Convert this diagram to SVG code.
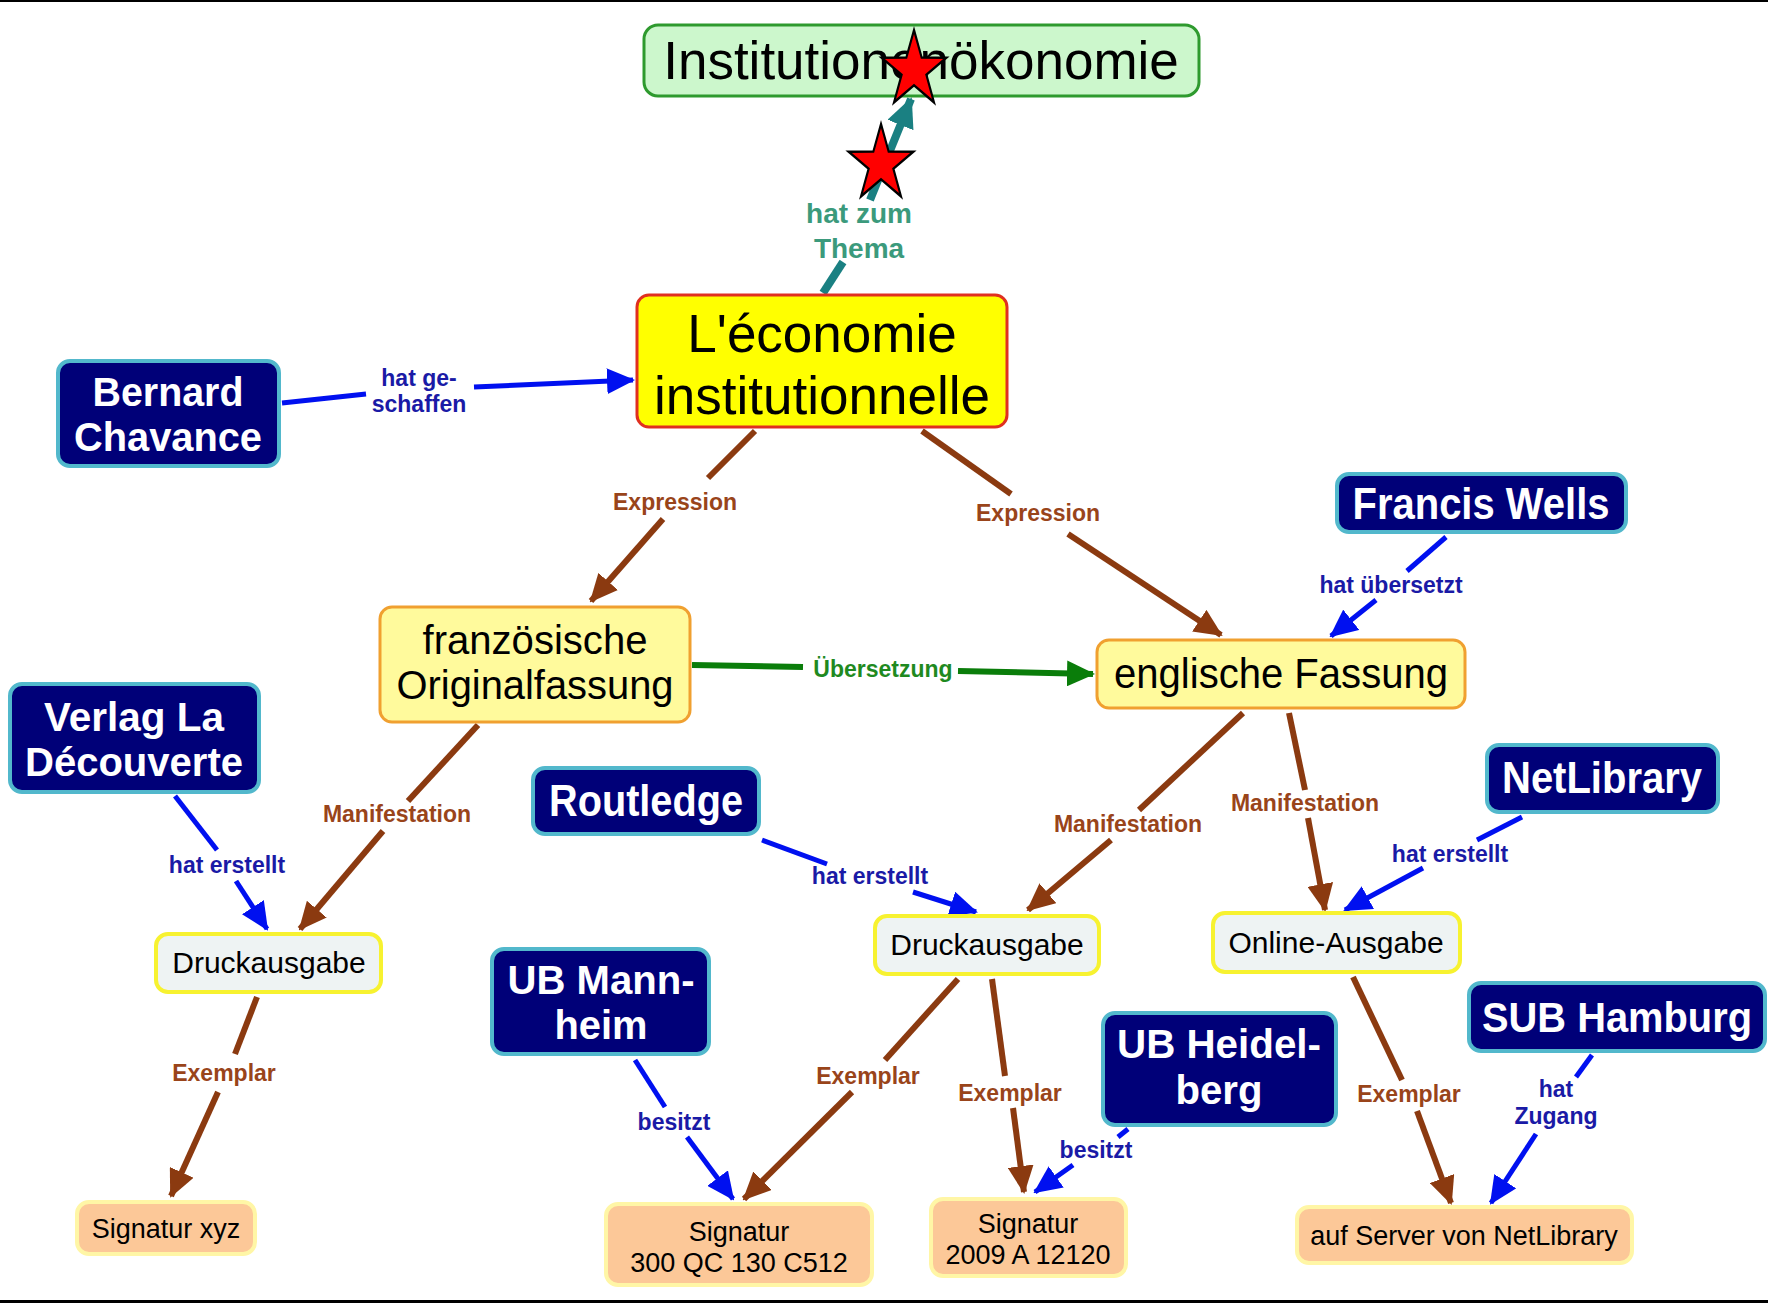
<svg xmlns="http://www.w3.org/2000/svg" xmlns:xlink="http://www.w3.org/1999/xlink" width="1768" height="1303" viewBox="0 0 1768 1303">
<style>
.t{font-family:"Liberation Sans",Arial,sans-serif;text-anchor:middle}
.navy rect{fill:#000078;stroke:#52b8cc;stroke-width:4}
.navy text{fill:#fff;font-weight:bold;font-size:45px}
.navy text.two{font-size:40px}
.yel rect{fill:#fffa9c;stroke:#f0a030;stroke-width:3}
.yel text{fill:#000;font-size:40px}
.ed rect{fill:#eef3f3;stroke:#f7f230;stroke-width:4}
.ed text{fill:#000;font-size:30px}
.sig rect{fill:#fcc898;stroke:#fff6a6;stroke-width:4}
.sig text{fill:#000;font-size:27px}
.lb{font-weight:bold;font-size:23px}
.br{stroke:#8b3a10;stroke-width:6;fill:none}
.bl{stroke:#0010f0;stroke-width:5;fill:none}
.gr{stroke:#0a7d0a;stroke-width:6;fill:none}
.te{stroke:#1a8082;stroke-width:8;fill:none}
.lbr{fill:#99441a}
.lbl{fill:#1a1aa6}
.lgr{fill:#1f8a1f}
.lte{fill:#3b9a7c}
</style>
<defs>
<marker id="mbr" markerUnits="userSpaceOnUse" markerWidth="28" markerHeight="26" refX="26" refY="13" orient="auto"><path d="M0,0 L28,13 L0,26 z" fill="#8b3a10"/></marker>
<marker id="mbl" markerUnits="userSpaceOnUse" markerWidth="28" markerHeight="26" refX="26" refY="13" orient="auto"><path d="M0,0 L28,13 L0,26 z" fill="#0010f0"/></marker>
<marker id="mgr" markerUnits="userSpaceOnUse" markerWidth="28" markerHeight="26" refX="26" refY="13" orient="auto"><path d="M0,0 L28,13 L0,26 z" fill="#0a7d0a"/></marker>
<marker id="mte" markerUnits="userSpaceOnUse" markerWidth="30" markerHeight="28" refX="28" refY="14" orient="auto"><path d="M0,0 L30,14 L0,28 z" fill="#1a8082"/></marker>
<polygon id="star" points="0,-40 8.99,-12.38 38.04,-12.36 14.55,4.73 23.51,32.36 0,15.3 -23.51,32.36 -14.55,4.73 -38.04,-12.36 -8.99,-12.38" fill="#ff0000" stroke="#000" stroke-width="2.5" stroke-linejoin="miter"/>
</defs>
<rect x="0" y="0" width="1768" height="1303" fill="#fff"/>
<line x1="0" y1="1" x2="1768" y2="1" stroke="#000" stroke-width="2"/>
<line x1="0" y1="1301.5" x2="1768" y2="1301.5" stroke="#000" stroke-width="3"/>

<g id="connectors">
  <!-- hat zum Thema -->
  <line class="te" x1="823" y1="293" x2="843" y2="262"/>
  <line class="te" x1="870" y1="200" x2="911" y2="99" marker-end="url(#mte)"/>
  <text class="t lb lte" x="859" y="223" style="font-size:28px">hat zum</text>
  <text class="t lb lte" x="859" y="258" style="font-size:28px">Thema</text>
  <!-- hat geschaffen -->
  <line class="bl" x1="282" y1="403" x2="366" y2="394"/>
  <line class="bl" x1="474" y1="387" x2="633" y2="380" marker-end="url(#mbl)"/>
  <text class="t lb lbl" x="419" y="386">hat ge-</text>
  <text class="t lb lbl" x="419" y="412">schaffen</text>
  <!-- Expression left -->
  <line class="br" x1="755" y1="431" x2="708" y2="478"/>
  <line class="br" x1="663" y1="519" x2="591" y2="601" marker-end="url(#mbr)"/>
  <text class="t lb lbr" x="675" y="510">Expression</text>
  <!-- Expression right -->
  <line class="br" x1="922" y1="431" x2="1011" y2="494"/>
  <line class="br" x1="1068" y1="534" x2="1221" y2="635" marker-end="url(#mbr)"/>
  <text class="t lb lbr" x="1038" y="521">Expression</text>
  <!-- Übersetzung -->
  <line class="gr" x1="692" y1="665" x2="803" y2="667"/>
  <line class="gr" x1="958" y1="671" x2="1093" y2="674" marker-end="url(#mgr)"/>
  <text class="t lb lgr" x="883" y="677">Übersetzung</text>
  <!-- hat übersetzt -->
  <line class="bl" x1="1446" y1="537" x2="1407" y2="571"/>
  <line class="bl" x1="1376" y1="600" x2="1331" y2="636" marker-end="url(#mbl)"/>
  <text class="t lb lbl" x="1391" y="593">hat übersetzt</text>
  <!-- Verlag hat erstellt -->
  <line class="bl" x1="175" y1="796" x2="217" y2="850"/>
  <line class="bl" x1="236" y1="881" x2="267" y2="929" marker-end="url(#mbl)"/>
  <text class="t lb lbl" x="227" y="873">hat erstellt</text>
  <!-- Manifestation left -->
  <line class="br" x1="478" y1="725" x2="408" y2="801"/>
  <line class="br" x1="383" y1="831" x2="300" y2="929" marker-end="url(#mbr)"/>
  <text class="t lb lbr" x="397" y="822">Manifestation</text>
  <!-- Routledge hat erstellt -->
  <line class="bl" x1="762" y1="840" x2="827" y2="864"/>
  <line class="bl" x1="913" y1="892" x2="976" y2="912" marker-end="url(#mbl)"/>
  <text class="t lb lbl" x="870" y="884">hat erstellt</text>
  <!-- Manifestation mid -->
  <line class="br" x1="1243" y1="713" x2="1139" y2="810"/>
  <line class="br" x1="1111" y1="840" x2="1028" y2="910" marker-end="url(#mbr)"/>
  <text class="t lb lbr" x="1128" y="832">Manifestation</text>
  <!-- Manifestation right -->
  <line class="br" x1="1289" y1="713" x2="1305" y2="790"/>
  <line class="br" x1="1308" y1="818" x2="1325" y2="910" marker-end="url(#mbr)"/>
  <text class="t lb lbr" x="1305" y="811">Manifestation</text>
  <!-- NetLibrary hat erstellt -->
  <line class="bl" x1="1522" y1="817" x2="1477" y2="840"/>
  <line class="bl" x1="1423" y1="868" x2="1345" y2="910" marker-end="url(#mbl)"/>
  <text class="t lb lbl" x="1450" y="862">hat erstellt</text>
  <!-- Exemplar left -->
  <line class="br" x1="257" y1="997" x2="235" y2="1054"/>
  <line class="br" x1="218" y1="1092" x2="171" y2="1196" marker-end="url(#mbr)"/>
  <text class="t lb lbr" x="224" y="1081">Exemplar</text>
  <!-- besitzt Mannheim -->
  <line class="bl" x1="635" y1="1060" x2="665" y2="1107"/>
  <line class="bl" x1="687" y1="1137" x2="733" y2="1199" marker-end="url(#mbl)"/>
  <text class="t lb lbl" x="674" y="1130">besitzt</text>
  <!-- Exemplar mid-left -->
  <line class="br" x1="958" y1="979" x2="885" y2="1060"/>
  <line class="br" x1="852" y1="1092" x2="744" y2="1199" marker-end="url(#mbr)"/>
  <text class="t lb lbr" x="868" y="1084">Exemplar</text>
  <!-- Exemplar mid-right -->
  <line class="br" x1="992" y1="979" x2="1005" y2="1076"/>
  <line class="br" x1="1013" y1="1108" x2="1024" y2="1192" marker-end="url(#mbr)"/>
  <text class="t lb lbr" x="1010" y="1101">Exemplar</text>
  <!-- besitzt Heidelberg -->
  <line class="bl" x1="1128" y1="1129" x2="1118" y2="1137"/>
  <line class="bl" x1="1073" y1="1165" x2="1035" y2="1192" marker-end="url(#mbl)"/>
  <text class="t lb lbl" x="1096" y="1158">besitzt</text>
  <!-- Exemplar online -->
  <line class="br" x1="1353" y1="977" x2="1402" y2="1080"/>
  <line class="br" x1="1417" y1="1111" x2="1451" y2="1203" marker-end="url(#mbr)"/>
  <text class="t lb lbr" x="1409" y="1102">Exemplar</text>
  <!-- hat Zugang -->
  <line class="bl" x1="1592" y1="1055" x2="1576" y2="1077"/>
  <line class="bl" x1="1536" y1="1134" x2="1491" y2="1203" marker-end="url(#mbl)"/>
  <text class="t lb lbl" x="1556" y="1097">hat</text>
  <text class="t lb lbl" x="1556" y="1124">Zugang</text>
</g>

<g id="n-institutionenoekonomie">
  <rect x="644" y="25" width="555" height="71" rx="14" fill="#ccf7cc" stroke="#2e9a2e" stroke-width="3"/>
  <text class="t" x="921" y="79" font-size="53" fill="#000">Institutionenökonomie</text>
</g>
<g id="n-economie">
  <rect x="637" y="295" width="370" height="132" rx="12" fill="#ffff00" stroke="#e03020" stroke-width="3"/>
  <text class="t" x="822" y="352" font-size="53" fill="#000">L'économie</text>
  <text class="t" x="822" y="414" font-size="53" fill="#000">institutionnelle</text>
</g>
<g id="n-bernard" class="navy">
  <rect x="58" y="361" width="221" height="105" rx="12"/>
  <text class="t two" x="168" y="406" textLength="151" lengthAdjust="spacingAndGlyphs">Bernard</text>
  <text class="t two" x="168" y="451" textLength="188" lengthAdjust="spacingAndGlyphs">Chavance</text>
</g>
<g id="n-francis" class="navy">
  <rect x="1337" y="474" width="289" height="58" rx="12"/>
  <text class="t" x="1481" y="519" textLength="257" lengthAdjust="spacingAndGlyphs">Francis Wells</text>
</g>
<g id="n-franz" class="yel">
  <rect x="380" y="607" width="310" height="115" rx="12"/>
  <text class="t" x="535" y="654" textLength="225" lengthAdjust="spacingAndGlyphs">französische</text>
  <text class="t" x="535" y="699" textLength="277" lengthAdjust="spacingAndGlyphs">Originalfassung</text>
</g>
<g id="n-engl" class="yel">
  <rect x="1097" y="640" width="368" height="68" rx="12"/>
  <text class="t" x="1281" y="688" textLength="334" lengthAdjust="spacingAndGlyphs" style="font-size:43px">englische Fassung</text>
</g>
<g id="n-verlag" class="navy">
  <rect x="10" y="684" width="249" height="108" rx="12"/>
  <text class="t two" x="134" y="731" textLength="180" lengthAdjust="spacingAndGlyphs">Verlag La</text>
  <text class="t two" x="134" y="776" textLength="218" lengthAdjust="spacingAndGlyphs">Découverte</text>
</g>
<g id="n-routledge" class="navy">
  <rect x="533" y="768" width="226" height="66" rx="12"/>
  <text class="t" x="646" y="816" textLength="194" lengthAdjust="spacingAndGlyphs">Routledge</text>
</g>
<g id="n-netlibrary" class="navy">
  <rect x="1487" y="745" width="231" height="67" rx="12"/>
  <text class="t" x="1602" y="793" textLength="200" lengthAdjust="spacingAndGlyphs">NetLibrary</text>
</g>
<g id="n-druck1" class="ed">
  <rect x="156" y="934" width="225" height="58" rx="12"/>
  <text class="t" x="269" y="973">Druckausgabe</text>
</g>
<g id="n-druck2" class="ed">
  <rect x="875" y="916" width="224" height="58" rx="12"/>
  <text class="t" x="987" y="955">Druckausgabe</text>
</g>
<g id="n-online" class="ed">
  <rect x="1213" y="913" width="247" height="59" rx="12"/>
  <text class="t" x="1336" y="953">Online-Ausgabe</text>
</g>
<g id="n-mannheim" class="navy">
  <rect x="492" y="949" width="217" height="105" rx="12"/>
  <text class="t two" x="601" y="994" textLength="187" lengthAdjust="spacingAndGlyphs">UB Mann-</text>
  <text class="t two" x="601" y="1039" textLength="93" lengthAdjust="spacingAndGlyphs">heim</text>
</g>
<g id="n-heidelberg" class="navy">
  <rect x="1103" y="1013" width="233" height="112" rx="12"/>
  <text class="t two" x="1219" y="1058" textLength="204" lengthAdjust="spacingAndGlyphs">UB Heidel-</text>
  <text class="t two" x="1219" y="1104" textLength="87" lengthAdjust="spacingAndGlyphs">berg</text>
</g>
<g id="n-hamburg" class="navy">
  <rect x="1469" y="983" width="296" height="68" rx="12"/>
  <text class="t" x="1617" y="1032" textLength="270" lengthAdjust="spacingAndGlyphs" style="font-size:42px">SUB Hamburg</text>
</g>
<g id="n-sigxyz" class="sig">
  <rect x="77" y="1202" width="178" height="52" rx="12"/>
  <text class="t" x="166" y="1238">Signatur xyz</text>
</g>
<g id="n-sig300" class="sig">
  <rect x="606" y="1204" width="266" height="81" rx="12"/>
  <text class="t" x="739" y="1241">Signatur</text>
  <text class="t" x="739" y="1272">300 QC 130 C512</text>
</g>
<g id="n-sig2009" class="sig">
  <rect x="931" y="1199" width="195" height="77" rx="12"/>
  <text class="t" x="1028" y="1233">Signatur</text>
  <text class="t" x="1028" y="1264">2009 A 12120</text>
</g>
<g id="n-server" class="sig">
  <rect x="1297" y="1207" width="335" height="56" rx="12"/>
  <text class="t" x="1464" y="1245">auf Server von NetLibrary</text>
</g>

<g id="stars">
  <use xlink:href="#star" href="#star" transform="translate(914,70) scale(0.85,1)"/>
  <use xlink:href="#star" href="#star" transform="translate(881,164) scale(0.85,1)"/>
</g>
</svg>
